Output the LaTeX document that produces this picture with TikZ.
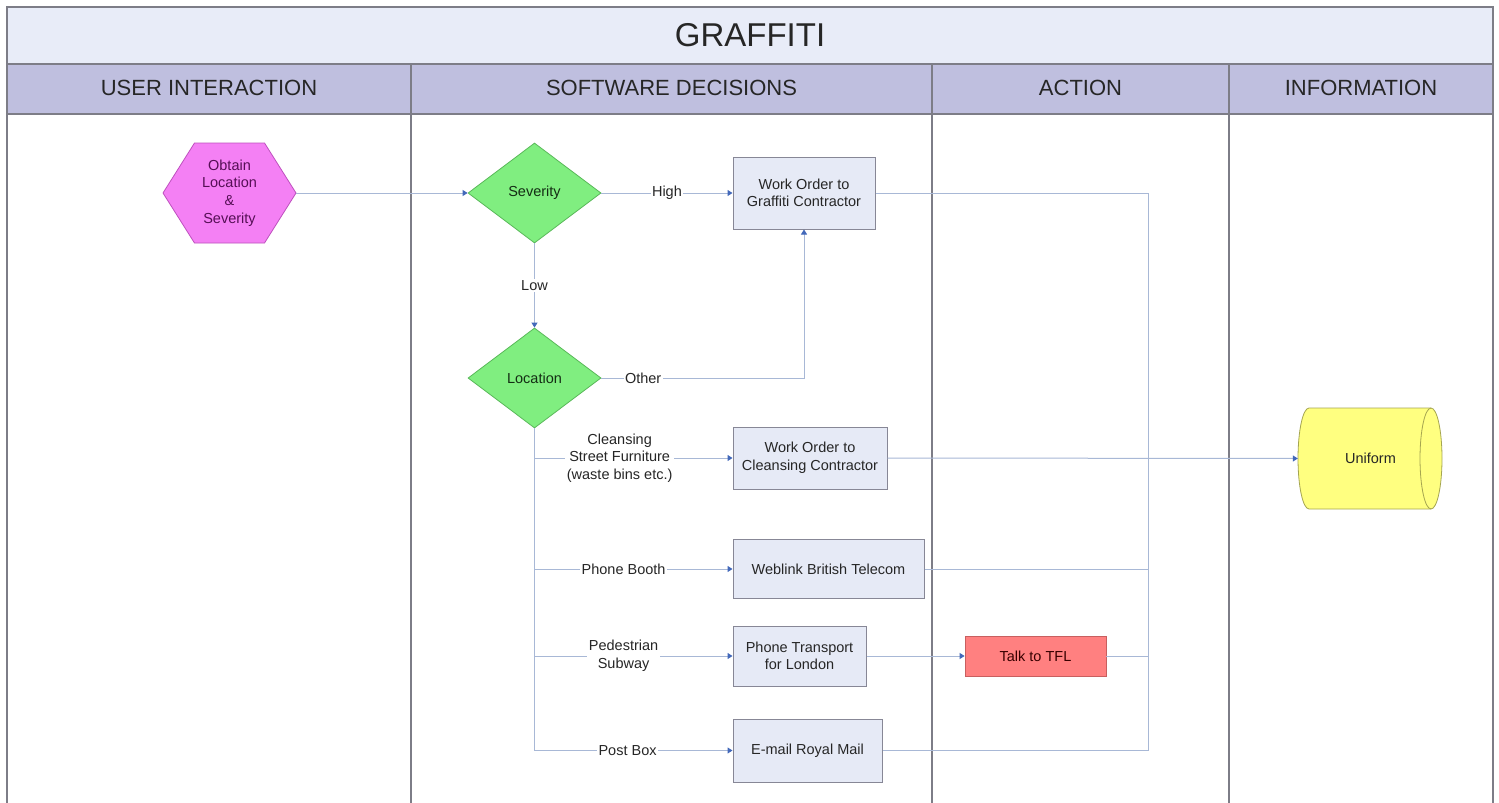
\documentclass[tikz,border=0pt]{standalone}
\usepackage{fontspec}
\setmainfont{Liberation Sans}
\usetikzlibrary{shapes.geometric,arrows.meta,calc}
\definecolor{titlefill}{RGB}{232,236,248}
\definecolor{headfill}{RGB}{191,191,223}
\definecolor{lanec}{RGB}{125,125,135}
\definecolor{conc}{RGB}{168,184,214}
\definecolor{arrc}{RGB}{66,104,186}
\definecolor{boxfill}{RGB}{230,234,246}
\definecolor{boxdraw}{RGB}{135,135,150}
\definecolor{hexfill}{RGB}{244,128,244}
\definecolor{hexdraw}{RGB}{190,80,190}
\definecolor{hextext}{RGB}{85,15,85}
\definecolor{diafill}{RGB}{128,238,128}
\definecolor{diadraw}{RGB}{90,185,90}
\definecolor{diatext}{RGB}{20,45,20}
\definecolor{tflfill}{RGB}{255,128,128}
\definecolor{tfldraw}{RGB}{200,95,95}
\definecolor{tfltext}{RGB}{55,0,0}
\definecolor{unifill}{RGB}{255,255,128}
\definecolor{unidraw}{RGB}{165,165,80}
\newcommand{\lblfont}{\fontsize{14.5}{17.6}\selectfont}
\begin{document}
\begin{tikzpicture}[x=1pt,y=-1pt,
  lane/.style={draw=lanec, line width=1.1pt},
  headtext/.style={font=\fontsize{22}{26}\selectfont, text=black!85},
  con/.style={draw=conc, line width=1pt},
  arr/.style={con, -{Triangle[width=6pt,length=5pt,color=arrc]}},
  lbl/.style={fill=white, inner sep=1.5pt, font=\lblfont, align=center, text=black!85},
  procbox/.style={draw=boxdraw, fill=boxfill, line width=1pt, font=\lblfont, align=center, text=black!85, inner sep=2pt},
  decision/.style={diamond, draw=diadraw, fill=diafill, line width=0.8pt, font=\lblfont, text=diatext, inner sep=0pt, aspect=1.36, minimum width=133pt, minimum height=100pt},
  hexlabel/.style={draw=none, minimum width=133pt, minimum height=100pt, font=\lblfont, align=center, text=hextext, inner sep=0pt},
  tflbox/.style={draw=tfldraw, fill=tflfill, line width=0.8pt, font=\lblfont, text=tfltext, inner sep=0pt},
  storelabel/.style={draw=none, font=\lblfont, text=black!85, minimum width=145pt, minimum height=101pt, inner sep=0pt},
  storeshape/.style={draw=unidraw, fill=unifill, line width=0.8pt}
]
\useasboundingbox (0,0) rectangle (1499,803);
\fill[white] (0,0) rectangle (1499,803);
% bands
\fill[titlefill] (7,7) rectangle (1493,64);
\fill[headfill] (7,64) rectangle (1493,114);
\draw[lane] (7,803) -- (7,7) -- (1493,7) -- (1493,803);
\draw[lane] (7,64) -- (1493,64);
\draw[lane] (7,114) -- (1493,114);
\draw[lane] (411,64) -- (411,803);
\draw[lane] (932,64) -- (932,803);
\draw[lane] (1229,64) -- (1229,803);
\node[font=\fontsize{33}{38}\selectfont, text=black!85] (title) at (750,35) {GRAFFITI};
\node[headtext] (h1) at (209,88) {USER INTERACTION};
\node[headtext] (h2) at (671.5,88) {SOFTWARE DECISIONS};
\node[headtext] (h3) at (1080.5,88) {ACTION};
\node[headtext] (h4) at (1361,88) {INFORMATION};
% hexagon
\filldraw[fill=hexfill, draw=hexdraw, line width=0.8pt] (163,193) -- (194.5,143) -- (264.5,143) -- (296,193) -- (264.5,243) -- (194.5,243) -- cycle;
\node[hexlabel] (hex) at (229.5,193) {Obtain\\Location\\\&\\Severity};
% cylinder (data store)
\filldraw[storeshape] (1309,408) arc[start angle=270, end angle=90, x radius=11, y radius=50.5]
  -- (1431,509) arc[start angle=90, end angle=-90, x radius=11, y radius=50.5] -- cycle;
\draw[storeshape, fill=none] (1431,408) arc[start angle=270, end angle=90, x radius=11, y radius=50.5];
\node[storelabel] (uni) at (1370.5,458.5) {Uniform};
% decisions
\node[decision] (sev) at (534.5,193) {Severity};
\node[decision] (loc) at (534.5,378) {Location};
% boxes
\node[procbox, minimum width=142pt, minimum height=72pt] (gc) at (804,193) {Work Order to\\Graffiti Contractor};
\node[procbox, minimum width=154pt, minimum height=62pt] (cc) at (810,458) {Work Order to\\Cleansing Contractor};
\node[procbox, minimum width=191pt, minimum height=59pt] (wb) at (828.5,569) {Weblink British Telecom};
\node[procbox, minimum width=133pt, minimum height=60pt] (pt) at (799.5,656) {Phone Transport\\for London};
\node[procbox, minimum width=149pt, minimum height=63pt] (rm) at (807.5,750.5) {E-mail Royal Mail};
\node[tflbox, minimum width=141pt, minimum height=40pt] (tfl) at (1035.5,656) {Talk to TFL};
% collector
\coordinate (ctop) at (1148,193);
\coordinate (cbot) at (1148,750.5);
% connectors
\draw[arr] (hex.east) -- (sev.west);
\draw[arr] (sev.east) -- node[lbl] {High} (gc.west);
\draw[arr] (sev.south) -- node[lbl] {Low} (loc.north);
\draw[arr] (loc.east) -| node[lbl, pos=0.103] {Other} (gc.south);
\draw[con] (loc.south) -- (loc.south |- rm.west);
\draw[arr] (loc.south |- cc.west) -- node[lbl, pos=0.43] {Cleansing\\Street Furniture\\(waste bins etc.)} (cc.west);
\draw[arr] (loc.south |- wb.west) -- node[lbl, pos=0.45] {Phone Booth} (wb.west);
\draw[arr] (loc.south |- pt.west) -- node[lbl, pos=0.45] {Pedestrian\\Subway} (pt.west);
\draw[arr] (loc.south |- rm.west) -- node[lbl, pos=0.47] {Post Box} (rm.west);
\draw[con] (gc.east) -- (ctop) -- (cbot) -- (rm.east);
\draw[arr] (cc.east) -- (uni.west);
\draw[con] (wb.east) -- (ctop |- wb.east);
\draw[arr] (pt.east) -- (tfl.west);
\draw[con] (tfl.east) -- (ctop |- tfl.east);
\end{tikzpicture}
\end{document}
